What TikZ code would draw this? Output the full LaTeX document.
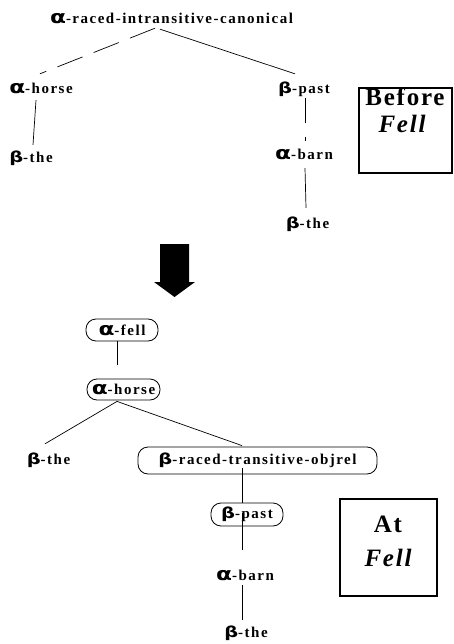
\documentclass[tikz,border=0pt]{standalone}
\usepackage{fontspec}
\usepackage{graphicx}
\setmainfont{Liberation Serif}
\newfontfamily\lblfam[LetterSpace=10]{Liberation Serif}
\newfontfamily\boxfam[LetterSpace=7]{Liberation Serif}
\newfontfamily\grk{DejaVu Sans}
\newcommand\Al{{\grk\bfseries\scalebox{1.55}[1.2]{α}}}
\newcommand\Be{{\grk\bfseries\scalebox{1.3}[1.0]{β}}}
\tikzset{
  lbl/.style={font=\lblfam\bfseries\fontsize{15}{17}\selectfont, inner sep=0pt, text height=10pt, text depth=3pt, anchor=base},
  rbox/.style={font=\lblfam\bfseries\fontsize{15}{17}\selectfont, inner sep=0pt, draw, line width=0.8pt, rounded corners=10pt},
  edge/.style={line width=0.7pt},
  frame/.style={draw, line width=1.5pt, inner sep=0pt},
  bigtxt/.style={font=\boxfam\bfseries\fontsize{25}{28}\selectfont, inner sep=0pt, anchor=base},
}
\begin{document}
\begin{tikzpicture}[x=1pt,y=-1pt]
\useasboundingbox (0,0) rectangle (453,644);
% --- before tree ---
\node[lbl] (top) at (171.5,24) {\Al-raced-intransitive-canonical};
\node[lbl] (h1) at (41,94) {\Al-horse};
\node[lbl] (t1) at (31,163) {\Be-the};
\node[lbl] (p1) at (304,94) {\Be-past};
\node[lbl] (b1) at (304,160) {\Al-barn};
\node[lbl] (t2) at (307.5,229) {\Be-the};
\draw[edge, dash pattern=on 27pt off 12pt] ([xshift=-16.5pt,yshift=-1pt]top.south) -- ([xshift=-1pt,yshift=10pt]h1.north);
\draw[edge] ([xshift=-11.5pt,yshift=-2pt]top.south) -- ([xshift=-9pt,yshift=10pt]p1.north);
\draw[edge] ([xshift=-5pt,yshift=-3pt]h1.south) -- ([xshift=2pt,yshift=8pt]t1.north);
\draw[edge, dash pattern=on 25pt off 14pt] ([xshift=1pt,yshift=-1pt]p1.south) -- ([xshift=1pt,yshift=9pt]b1.north);
\draw[edge] ([xshift=1pt,yshift=-5pt]b1.south) -- ([xshift=-1.5pt,yshift=11pt]t2.north);
% Before box
\node[frame, minimum width=93pt, minimum height=85pt] (beforebox) at (405.5,130.5) {};
\node[bigtxt] (beforetxt) at (405,106) {Before};
\node[bigtxt] (fell1) at (402,133) {\itshape Fell};
% arrow
\fill (160,244) -- (189,244) -- (189,282) -- (195,282) -- (174.5,297) -- (154,282) -- (160,282) -- cycle;
% --- at tree ---
\node[rbox, minimum width=72pt, minimum height=22pt] (f) at (122,330) {\Al-fell};
\node[rbox, minimum width=73pt, minimum height=21pt] (h2) at (123.5,389.5) {\Al-horse};
\node[lbl] (t3) at (48.5,464) {\Be-the};
\node[rbox, minimum width=239pt, minimum height=27pt] (r) at (257.5,460.5) {\Be-raced-transitive-objrel};
\node[rbox, minimum width=72pt, minimum height=23pt] (p2) at (247,514.5) {\Be-past};
\node[lbl] (b2) at (245,580) {\Al-barn};
\node[lbl] (t4) at (246,637) {\Be-the};
\draw[edge] ([xshift=-5pt]f.south) -- ([xshift=-6.5pt,yshift=14pt]h2.north);
\draw[edge] ([xshift=-6.5pt,yshift=-1pt]h2.south) -- ([xshift=-3.5pt,yshift=10pt]t3.north);
\draw[edge] ([xshift=-6.5pt,yshift=-1pt]h2.south) -- ([xshift=-15.5pt,yshift=1pt]r.north);
\draw[edge] ([xshift=-15.5pt,yshift=6pt]r.south) -- ([xshift=-5pt]p2.north);
\draw[edge] ([xshift=-5pt,yshift=13pt]p2.south) -- ([xshift=-3pt,yshift=20pt]b2.north);
\draw[edge] ([xshift=-3pt,yshift=-2pt]b2.south) -- ([xshift=-4pt,yshift=7pt]t4.north);
% At box
\node[frame, minimum width=97pt, minimum height=97pt] (atbox) at (388.5,547.5) {};
\node[bigtxt] (attxt) at (388,532) {At};
\node[bigtxt] (fell2) at (388,566) {\itshape Fell};
\end{tikzpicture}
\end{document}
